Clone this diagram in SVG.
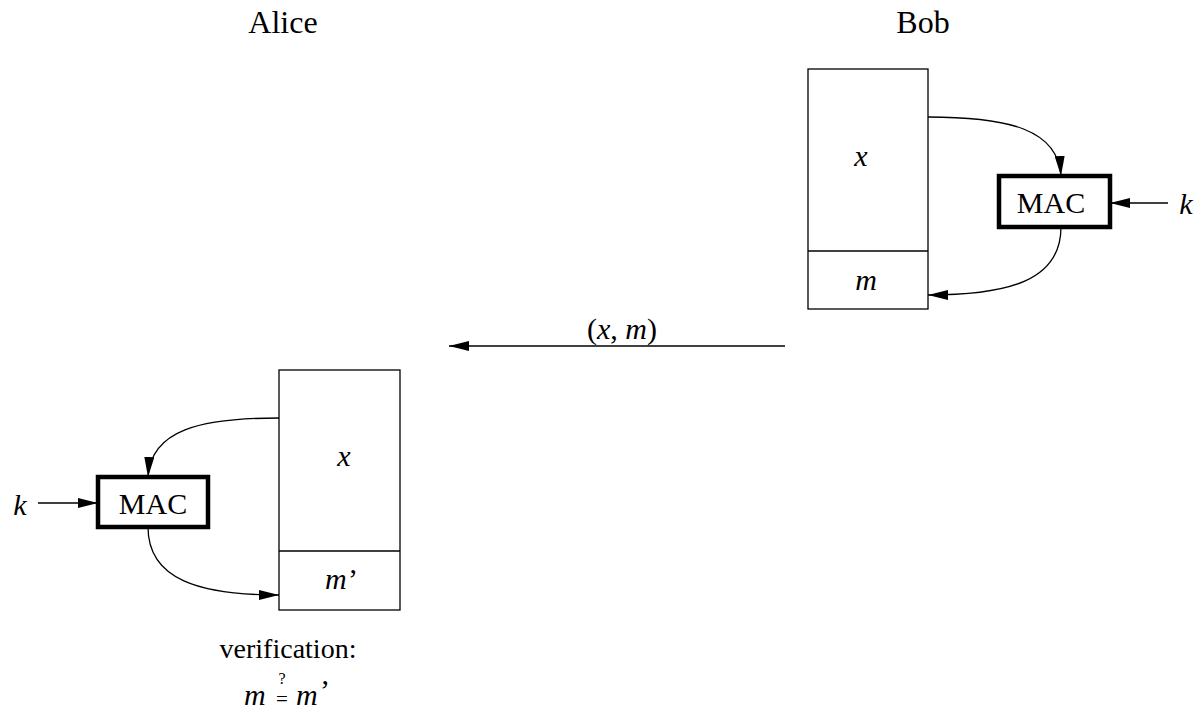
<svg xmlns="http://www.w3.org/2000/svg" width="1198" height="709" viewBox="0 0 1198 709" font-family="'Liberation Serif','Times New Roman','DejaVu Serif',serif">
<style>
text{font-family:"Liberation Serif","Times New Roman","DejaVu Serif",serif;font-size:30px;fill:#000}
.i{font-style:italic}
.t{font-size:32px}
.blk{fill:#fff;stroke:#000;stroke-width:1.3}
.mac{fill:#fff;stroke:#000;stroke-width:4.5}
.c{fill:none;stroke:#000;stroke-width:1.3}
</style>
<defs>
<marker id="ah" viewBox="0 0 20 10" refX="20" refY="5" markerWidth="20" markerHeight="10" markerUnits="userSpaceOnUse" orient="auto">
<path d="M0,0 L20,5 L0,10 Z" fill="#000"/>
</marker>
</defs>
<rect width="1198" height="709" fill="#fff"/>
<g id="titles">
<text class="t" x="283" y="33" text-anchor="middle">Alice</text>
<text class="t" x="923" y="33" text-anchor="middle">Bob</text>
</g>
<g id="bob-block">
<rect class="blk" x="808" y="69" width="120" height="240"/>
<line class="c" x1="808" y1="251" x2="928" y2="251"/>
<text class="i" x="861" y="166" text-anchor="middle">x</text>
<text class="i" x="866" y="290" text-anchor="middle">m</text>
</g>
<g id="bob-mac">
<rect class="mac" x="999" y="176" width="111" height="51"/>
<text x="1051" y="213" text-anchor="middle">MAC</text>
</g>
<g id="bob-k"><text class="i" x="1186" y="214" text-anchor="middle">k</text></g>
<g id="alice-block">
<rect class="blk" x="279" y="370" width="121" height="240"/>
<line class="c" x1="279" y1="551" x2="400" y2="551"/>
<text class="i" x="344" y="466" text-anchor="middle">x</text>
<text class="i" x="325" y="589">m</text>
<text x="348" y="589">’</text>
</g>
<g id="alice-mac">
<rect class="mac" x="98" y="477" width="110" height="50"/>
<text x="153" y="514" text-anchor="middle">MAC</text>
</g>
<g id="alice-k"><text class="i" x="20" y="515" text-anchor="middle">k</text></g>
<g id="verification">
<text x="288" y="658" text-anchor="middle" font-family="'Liberation Serif','Times New Roman',serif" style="font-size:28px">verification:</text>
<text class="i" x="244" y="705">m</text>
<text x="276" y="706" style="font-size:21px">=</text>
<text x="282" y="684" text-anchor="middle" style="font-size:16px">?</text>
<text class="i" x="296" y="705">m</text>
<text x="320" y="700">’</text>
</g>
<g id="connectors">
<path class="c" d="M928,117 C1010,117 1058,130 1061,176" marker-end="url(#ah)"/>
<path class="c" d="M1061,227 C1061,280 1010,295 928,295" marker-end="url(#ah)"/>
<line class="c" x1="1168" y1="203" x2="1110" y2="203" marker-end="url(#ah)"/>
<path class="c" d="M279,418 C200,418 151,430 148,477" marker-end="url(#ah)"/>
<path class="c" d="M148,527 C148,580 200,595 279,595" marker-end="url(#ah)"/>
<line class="c" x1="38" y1="503" x2="98" y2="503" marker-end="url(#ah)"/>
<line class="c" x1="785" y1="346" x2="449" y2="346" marker-end="url(#ah)"/>
<text x="622" y="339" text-anchor="middle">(<tspan class="i">x</tspan>, <tspan class="i">m</tspan>)</text>
</g>
</svg>
